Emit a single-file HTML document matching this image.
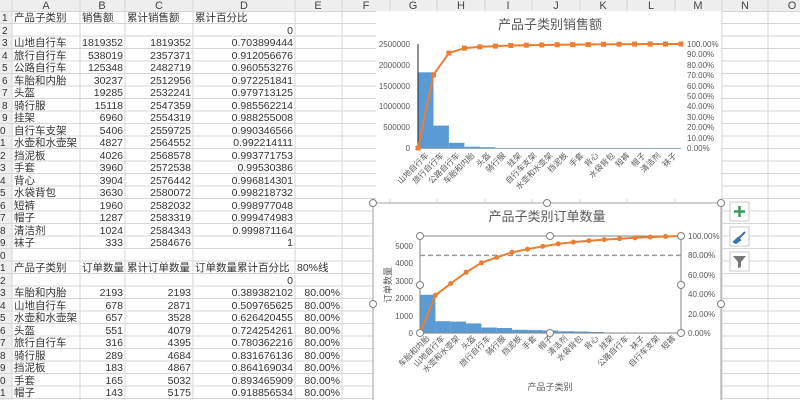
<!DOCTYPE html>
<html><head><meta charset="utf-8"><style>
body{margin:0;width:800px;height:400px;overflow:hidden;background:#fff}
svg{display:block;font-family:"Liberation Sans","Noto Sans CJK SC",sans-serif}
.c{font-size:10.5px;fill:#333}
.h{font-size:11px;fill:#444;text-anchor:middle}
.r{text-anchor:end}
.a{font-size:8px;fill:#595959}
</style></head><body>
<svg width="800" height="400" viewBox="0 0 800 400">
<rect x="0" y="0" width="800" height="11" fill="#eeeeee"/>
<rect x="0" y="0" width="12" height="400" fill="#eeeeee"/>
<g stroke="#d6d6d6" stroke-width="1">
<line x1="12" y1="0" x2="12" y2="400"/><line x1="80" y1="0" x2="80" y2="400"/><line x1="125" y1="0" x2="125" y2="400"/><line x1="193" y1="0" x2="193" y2="400"/><line x1="295" y1="0" x2="295" y2="400"/><line x1="342" y1="0" x2="342" y2="400"/><line x1="390" y1="0" x2="390" y2="400"/><line x1="437" y1="0" x2="437" y2="400"/><line x1="485" y1="0" x2="485" y2="400"/><line x1="532" y1="0" x2="532" y2="400"/><line x1="580" y1="0" x2="580" y2="400"/><line x1="627" y1="0" x2="627" y2="400"/><line x1="675" y1="0" x2="675" y2="400"/><line x1="722" y1="0" x2="722" y2="400"/><line x1="768" y1="0" x2="768" y2="400"/>
<line x1="0" y1="11.5" x2="800" y2="11.5"/><line x1="0" y1="23.5" x2="800" y2="23.5"/><line x1="0" y1="36" x2="800" y2="36"/><line x1="0" y1="48.5" x2="800" y2="48.5"/><line x1="0" y1="61" x2="800" y2="61"/><line x1="0" y1="73.5" x2="800" y2="73.5"/><line x1="0" y1="86" x2="800" y2="86"/><line x1="0" y1="98.5" x2="800" y2="98.5"/><line x1="0" y1="111" x2="800" y2="111"/><line x1="0" y1="123.5" x2="800" y2="123.5"/><line x1="0" y1="136" x2="800" y2="136"/><line x1="0" y1="148.5" x2="800" y2="148.5"/><line x1="0" y1="161" x2="800" y2="161"/><line x1="0" y1="173.5" x2="800" y2="173.5"/><line x1="0" y1="186" x2="800" y2="186"/><line x1="0" y1="198.5" x2="800" y2="198.5"/><line x1="0" y1="211" x2="800" y2="211"/><line x1="0" y1="223.5" x2="800" y2="223.5"/><line x1="0" y1="236" x2="800" y2="236"/><line x1="0" y1="248.5" x2="800" y2="248.5"/><line x1="0" y1="261" x2="800" y2="261"/><line x1="0" y1="273.5" x2="800" y2="273.5"/><line x1="0" y1="286" x2="800" y2="286"/><line x1="0" y1="298.5" x2="800" y2="298.5"/><line x1="0" y1="311" x2="800" y2="311"/><line x1="0" y1="323.5" x2="800" y2="323.5"/><line x1="0" y1="336" x2="800" y2="336"/><line x1="0" y1="348.5" x2="800" y2="348.5"/><line x1="0" y1="361" x2="800" y2="361"/><line x1="0" y1="373.5" x2="800" y2="373.5"/><line x1="0" y1="386" x2="800" y2="386"/><line x1="0" y1="398.5" x2="800" y2="398.5"/>
</g>
<g class="h"><text x="46" y="9">A</text><text x="102" y="9">B</text><text x="159" y="9">C</text><text x="244" y="9">D</text><text x="318" y="9">E</text><text x="366" y="9">F</text><text x="413" y="9">G</text><text x="461" y="9">H</text><text x="508" y="9">I</text><text x="556" y="9">J</text><text x="603" y="9">K</text><text x="651" y="9">L</text><text x="698" y="9">M</text><text x="745" y="9">N</text><text x="792" y="9">O</text></g>
<g class="c" style="font-size:10px">
<text x="2" y="21">1</text><text x="2" y="34">2</text><text x="2" y="46">3</text><text x="2" y="59">4</text><text x="2" y="71">5</text><text x="2" y="84">6</text><text x="2" y="96">7</text><text x="2" y="109">8</text><text x="2" y="121">9</text><text x="0" y="134">0</text><text x="0" y="146">1</text><text x="0" y="159">2</text><text x="0" y="171">3</text><text x="0" y="184">4</text><text x="0" y="196">5</text><text x="0" y="209">6</text><text x="0" y="221">7</text><text x="0" y="234">8</text><text x="0" y="246">9</text><text x="0" y="259">0</text><text x="0" y="271">1</text><text x="0" y="284">2</text><text x="0" y="296">3</text><text x="0" y="309">4</text><text x="0" y="321">5</text><text x="0" y="334">6</text><text x="0" y="346">7</text><text x="0" y="359">8</text><text x="0" y="371">9</text><text x="0" y="384">0</text><text x="0" y="396">1</text></g>
<g class="c">
<text x="14" y="21">产品子类别</text><text x="82" y="21">销售额</text><text x="127" y="21">累计销售额</text><text x="195" y="21">累计百分比</text>
<text x="14" y="46">山地自行车</text><text x="14" y="59">旅行自行车</text><text x="14" y="71">公路自行车</text><text x="14" y="84">车胎和内胎</text><text x="14" y="96">头盔</text><text x="14" y="109">骑行服</text><text x="14" y="121">挂架</text><text x="14" y="134">自行车支架</text><text x="14" y="146">水壶和水壶架</text><text x="14" y="159">挡泥板</text><text x="14" y="171">手套</text><text x="14" y="184">背心</text><text x="14" y="196">水袋背包</text><text x="14" y="209">短裤</text><text x="14" y="221">帽子</text><text x="14" y="234">清洁剂</text><text x="14" y="246">袜子</text>
<text x="14" y="271">产品子类别</text><text x="82" y="271">订单数量</text><text x="127" y="271">累计订单数量</text><text x="195" y="271">订单数量累计百分比</text><text x="297" y="271">80%线</text>
<text x="14" y="296">车胎和内胎</text><text x="14" y="309">山地自行车</text><text x="14" y="321">水壶和水壶架</text><text x="14" y="334">头盔</text><text x="14" y="346">旅行自行车</text><text x="14" y="359">骑行服</text><text x="14" y="371">挡泥板</text><text x="14" y="384">手套</text><text x="14" y="396">帽子</text>
</g>
<g class="c r">
<text x="293" y="34">0</text>
<text x="123" y="46">1819352</text><text x="191" y="46">1819352</text><text x="293" y="46">0.703899444</text>
<text x="123" y="59">538019</text><text x="191" y="59">2357371</text><text x="293" y="59">0.912056676</text>
<text x="123" y="71">125348</text><text x="191" y="71">2482719</text><text x="293" y="71">0.960553276</text>
<text x="123" y="84">30237</text><text x="191" y="84">2512956</text><text x="293" y="84">0.972251841</text>
<text x="123" y="96">19285</text><text x="191" y="96">2532241</text><text x="293" y="96">0.979713125</text>
<text x="123" y="109">15118</text><text x="191" y="109">2547359</text><text x="293" y="109">0.985562214</text>
<text x="123" y="121">6960</text><text x="191" y="121">2554319</text><text x="293" y="121">0.988255008</text>
<text x="123" y="134">5406</text><text x="191" y="134">2559725</text><text x="293" y="134">0.990346566</text>
<text x="123" y="146">4827</text><text x="191" y="146">2564552</text><text x="293" y="146">0.992214111</text>
<text x="123" y="159">4026</text><text x="191" y="159">2568578</text><text x="293" y="159">0.993771753</text>
<text x="123" y="171">3960</text><text x="191" y="171">2572538</text><text x="293" y="171">0.99530386</text>
<text x="123" y="184">3904</text><text x="191" y="184">2576442</text><text x="293" y="184">0.996814301</text>
<text x="123" y="196">3630</text><text x="191" y="196">2580072</text><text x="293" y="196">0.998218732</text>
<text x="123" y="209">1960</text><text x="191" y="209">2582032</text><text x="293" y="209">0.998977048</text>
<text x="123" y="221">1287</text><text x="191" y="221">2583319</text><text x="293" y="221">0.999474983</text>
<text x="123" y="234">1024</text><text x="191" y="234">2584343</text><text x="293" y="234">0.999871164</text>
<text x="123" y="246">333</text><text x="191" y="246">2584676</text><text x="293" y="246">1</text>
<text x="293" y="284">0</text>
<text x="123" y="296">2193</text><text x="191" y="296">2193</text><text x="293" y="296">0.389382102</text><text x="340" y="296">80.00%</text>
<text x="123" y="309">678</text><text x="191" y="309">2871</text><text x="293" y="309">0.509765625</text><text x="340" y="309">80.00%</text>
<text x="123" y="321">657</text><text x="191" y="321">3528</text><text x="293" y="321">0.626420455</text><text x="340" y="321">80.00%</text>
<text x="123" y="334">551</text><text x="191" y="334">4079</text><text x="293" y="334">0.724254261</text><text x="340" y="334">80.00%</text>
<text x="123" y="346">316</text><text x="191" y="346">4395</text><text x="293" y="346">0.780362216</text><text x="340" y="346">80.00%</text>
<text x="123" y="359">289</text><text x="191" y="359">4684</text><text x="293" y="359">0.831676136</text><text x="340" y="359">80.00%</text>
<text x="123" y="371">183</text><text x="191" y="371">4867</text><text x="293" y="371">0.864169034</text><text x="340" y="371">80.00%</text>
<text x="123" y="384">165</text><text x="191" y="384">5032</text><text x="293" y="384">0.893465909</text><text x="340" y="384">80.00%</text>
<text x="123" y="396">143</text><text x="191" y="396">5175</text><text x="293" y="396">0.918856534</text><text x="340" y="396">80.00%</text>
</g>

<!-- Chart 1 -->
<rect x="376" y="11" width="345" height="188" fill="#fff"/>
<text x="550" y="29" style="font-size:13px;fill:#595959;text-anchor:middle">产品子类别销售额</text>
<g fill="#5b9bd5">
<rect x="418" y="72.3" width="15.5" height="75.7"/><rect x="433.5" y="125.6" width="15.4" height="22.4"/><rect x="448.9" y="142.8" width="15.5" height="5.2"/><rect x="464.4" y="146.7" width="15.5" height="1.3"/><rect x="479.9" y="147.2" width="15.5" height="0.8"/>
</g>
<line x1="418" y1="44" x2="418" y2="148" stroke="#222" stroke-width="1"/>
<line x1="418" y1="148.5" x2="681" y2="148.5" stroke="#9aaac0" stroke-width="1"/>
<polyline fill="none" stroke="#ed7d31" stroke-width="2" points="418,148 433.5,74.8 448.9,53.1 464.4,48.1 479.9,46.9 495.4,46.1 510.8,45.5 526.3,45.2 541.8,45 557.2,44.8 572.7,44.6 588.2,44.5 603.6,44.3 619.1,44.2 634.6,44.1 650.1,44 665.5,44 681,44"/>
<g fill="#ed7d31"><rect x="415.5" y="145.5" width="5" height="5"/><rect x="431" y="72.3" width="5" height="5"/><rect x="446.4" y="50.6" width="5" height="5"/><rect x="461.9" y="45.6" width="5" height="5"/><rect x="477.4" y="44.4" width="5" height="5"/><rect x="492.9" y="43.6" width="5" height="5"/><rect x="508.3" y="43" width="5" height="5"/><rect x="523.8" y="42.7" width="5" height="5"/><rect x="539.3" y="42.5" width="5" height="5"/><rect x="554.7" y="42.3" width="5" height="5"/><rect x="570.2" y="42.1" width="5" height="5"/><rect x="585.7" y="42" width="5" height="5"/><rect x="601.1" y="41.8" width="5" height="5"/><rect x="616.6" y="41.7" width="5" height="5"/><rect x="632.1" y="41.6" width="5" height="5"/><rect x="647.6" y="41.5" width="5" height="5"/><rect x="663" y="41.5" width="5" height="5"/><rect x="678.5" y="41.5" width="5" height="5"/></g>
<g class="a r"><text x="410" y="47">2500000</text><text x="410" y="68">2000000</text><text x="410" y="89">1500000</text><text x="410" y="109">1000000</text><text x="410" y="130">500000</text><text x="410" y="151">0</text></g>
<g class="a"><text x="687" y="47">100.00%</text><text x="687" y="57">90.00%</text><text x="687" y="68">80.00%</text><text x="687" y="78">70.00%</text><text x="687" y="89">60.00%</text><text x="687" y="99">50.00%</text><text x="687" y="109">40.00%</text><text x="687" y="120">30.00%</text><text x="687" y="130">20.00%</text><text x="687" y="141">10.00%</text><text x="687" y="151">0.00%</text></g>
<g class="a r">
<text transform="translate(429,156) rotate(-45)">山地自行车</text><text transform="translate(444,156) rotate(-45)">旅行自行车</text><text transform="translate(460,156) rotate(-45)">公路自行车</text><text transform="translate(475,156) rotate(-45)">车胎和内胎</text><text transform="translate(491,156) rotate(-45)">头盔</text><text transform="translate(506,156) rotate(-45)">骑行服</text><text transform="translate(522,156) rotate(-45)">挂架</text><text transform="translate(537,156) rotate(-45)">自行车支架</text><text transform="translate(553,156) rotate(-45)">水壶和水壶架</text><text transform="translate(568,156) rotate(-45)">挡泥板</text><text transform="translate(584,156) rotate(-45)">手套</text><text transform="translate(599,156) rotate(-45)">背心</text><text transform="translate(615,156) rotate(-45)">水袋背包</text><text transform="translate(630,156) rotate(-45)">短裤</text><text transform="translate(646,156) rotate(-45)">帽子</text><text transform="translate(661,156) rotate(-45)">清洁剂</text><text transform="translate(677,156) rotate(-45)">袜子</text>
</g>

<!-- Chart 2 -->
<rect x="373" y="203" width="348" height="200" fill="#fff" stroke="#a0a0a0"/>
<text x="547" y="221" style="font-size:13px;fill:#595959;text-anchor:middle">产品子类别订单数量</text>
<g fill="#5b9bd5">
<rect x="420" y="294.8" width="15.4" height="38.2"/><rect x="435.4" y="321.2" width="15.3" height="11.8"/><rect x="450.7" y="321.6" width="15.4" height="11.4"/><rect x="466.1" y="323.4" width="15.3" height="9.6"/><rect x="481.4" y="327.5" width="15.4" height="5.5"/><rect x="496.8" y="328" width="15.3" height="5"/><rect x="512.1" y="329.8" width="15.4" height="3.2"/><rect x="527.5" y="330.1" width="15.3" height="2.9"/><rect x="542.8" y="330.5" width="15.4" height="2.5"/><rect x="558.2" y="331.3" width="15.3" height="1.7"/><rect x="573.5" y="331.5" width="15.4" height="1.5"/><rect x="588.9" y="332" width="15.3" height="1"/>
</g>
<rect x="420" y="236" width="261" height="97" fill="none" stroke="#808080" stroke-width="1"/>
<line x1="420" y1="255.4" x2="681" y2="255.4" stroke="#999" stroke-width="1.5" stroke-dasharray="5,3"/>
<polyline fill="none" stroke="#ed7d31" stroke-width="2" points="420,333 435.4,295.3 450.7,283.5 466.1,272.3 481.4,262.8 496.8,257.3 512.1,252.3 527.5,249.2 542.8,246.4 558.2,243.9 573.5,242.1 588.9,240.7 604.2,239.6 619.6,238.7 634.9,237.8 650.3,237.1 665.6,236.5 681,236"/>
<g fill="#ed7d31"><circle cx="420" cy="333" r="2.5"/><circle cx="435.4" cy="295.3" r="2.5"/><circle cx="450.7" cy="283.5" r="2.5"/><circle cx="466.1" cy="272.3" r="2.5"/><circle cx="481.4" cy="262.8" r="2.5"/><circle cx="496.8" cy="257.3" r="2.5"/><circle cx="512.1" cy="252.3" r="2.5"/><circle cx="527.5" cy="249.2" r="2.5"/><circle cx="542.8" cy="246.4" r="2.5"/><circle cx="558.2" cy="243.9" r="2.5"/><circle cx="573.5" cy="242.1" r="2.5"/><circle cx="588.9" cy="240.7" r="2.5"/><circle cx="604.2" cy="239.6" r="2.5"/><circle cx="619.6" cy="238.7" r="2.5"/><circle cx="634.9" cy="237.8" r="2.5"/><circle cx="650.3" cy="237.1" r="2.5"/><circle cx="665.6" cy="236.5" r="2.5"/><circle cx="681" cy="236" r="2.5"/></g>
<g fill="#fff" stroke="#808080" stroke-width="1">
<circle cx="420" cy="236" r="3.5"/><circle cx="550" cy="236" r="3.5"/><circle cx="681" cy="236" r="3.5"/><circle cx="420" cy="285" r="3.5"/><circle cx="681" cy="285" r="3.5"/><circle cx="420" cy="333" r="3.5"/><circle cx="550" cy="333" r="3.5"/><circle cx="681" cy="333" r="3.5"/>
<circle cx="373" cy="203" r="3.5"/><circle cx="547" cy="203" r="3.5"/><circle cx="721" cy="203" r="3.5"/><circle cx="373" cy="304" r="3.5"/><circle cx="721" cy="304" r="3.5"/>
</g>
<g class="a r"><text x="413" y="249">5000</text><text x="413" y="266">4000</text><text x="413" y="284">3000</text><text x="413" y="301">2000</text><text x="413" y="319">1000</text><text x="413" y="336">0</text></g>
<g class="a"><text x="688" y="239">100.00%</text><text x="688" y="258">80.00%</text><text x="688" y="278">60.00%</text><text x="688" y="297">40.00%</text><text x="688" y="317">20.00%</text><text x="688" y="336">0.00%</text></g>
<text transform="translate(391,285) rotate(-90)" class="a" style="text-anchor:middle;font-size:9px">订单数量</text>
<text x="550" y="390" class="a" style="text-anchor:middle;font-size:9px">产品子类别</text>
<g class="a r">
<text transform="translate(430,339) rotate(-45)">车胎和内胎</text><text transform="translate(445,339) rotate(-45)">山地自行车</text><text transform="translate(460,339) rotate(-45)">水壶和水壶架</text><text transform="translate(476,339) rotate(-45)">头盔</text><text transform="translate(491,339) rotate(-45)">旅行自行车</text><text transform="translate(506,339) rotate(-45)">骑行服</text><text transform="translate(522,339) rotate(-45)">挡泥板</text><text transform="translate(537,339) rotate(-45)">手套</text><text transform="translate(553,339) rotate(-45)">帽子</text><text transform="translate(568,339) rotate(-45)">清洁剂</text><text transform="translate(583,339) rotate(-45)">水袋背包</text><text transform="translate(599,339) rotate(-45)">背心</text><text transform="translate(614,339) rotate(-45)">挂架</text><text transform="translate(629,339) rotate(-45)">公路自行车</text><text transform="translate(645,339) rotate(-45)">袜子</text><text transform="translate(660,339) rotate(-45)">自行车支架</text><text transform="translate(676,339) rotate(-45)">短裤</text>
</g>
<!-- side buttons -->
<g fill="#fff" stroke="#c8c8c8"><rect x="730" y="202" width="19" height="19"/><rect x="730" y="227" width="19" height="19"/><rect x="730" y="252" width="19" height="19"/></g>
<path d="M739.5 206v11M734 211.5h11" stroke="#3a9a5a" stroke-width="2.5"/>
<path d="M734 242l4-4 2 2-4 3zM739 238l6-6" stroke="#3b6fb6" stroke-width="2" fill="#3b6fb6"/>
<path d="M733 256h13l-5 6v5l-3 1v-6z" fill="#777"/>
</svg>
</body></html>
